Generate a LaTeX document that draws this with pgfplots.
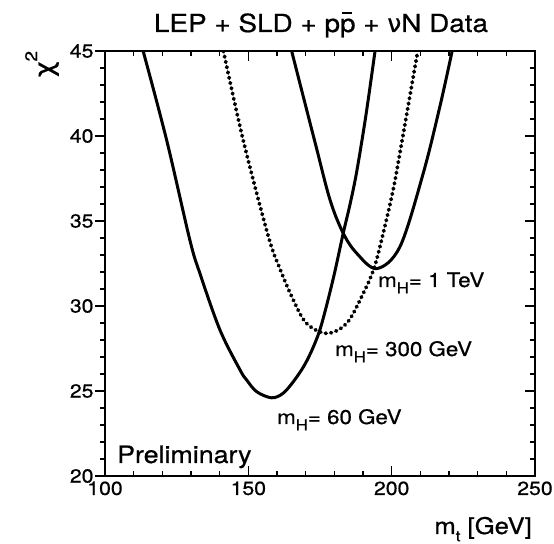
\documentclass[border=0pt]{standalone}
\usepackage{fontspec}
\setmainfont[FakeStretch=1.12, FakeBold=0.7]{TeX Gyre Heros}
\newfontfamily\greekfont[FakeBold=0.5]{DejaVu Sans}
\usepackage{pgfplots}
\pgfplotsset{compat=1.18}
\newcommand\pbar{\leavevmode\rlap{\hspace{0.07em}\rule[0.74em]{0.42em}{0.07em}}p}
\newcommand\sub[1]{\raisebox{-0.32em}{\fontsize{15}{15}\selectfont #1}}
\begin{document}
\begin{tikzpicture}[x=1bp,y=1bp]
\useasboundingbox (0,0) rectangle (554,544);
\pgfplotsset{
  common/.style={
    at={(105bp,68bp)}, anchor=south west,
    width=430bp, height=425bp, scale only axis,
    xmin=100, xmax=250, ymin=20, ymax=45,
    xtick={100,150,200,250}, minor x tick num=4,
    ytick={20,25,30,35,40,45}, minor y tick num=4,
    major tick length=10bp, minor tick length=5bp,
    every tick/.style={line width=1.3bp, black},
    axis line style={line width=2bp},
    /pgf/number format/assume math mode=true,
    tick label style={font=\fontsize{19}{21}\selectfont},
  }
}
\begin{axis}[common,
    tick align=inside,
    ytick pos=right, yticklabels={},
    xticklabel style={yshift=-2bp},
]
\addplot[line width=3bp, smooth, tension=0.55] coordinates {
(113.3,45) (121.5,39.76) (129.6,33.88) (133.1,31.92) (140.1,28.59)
(147.1,26.24) (149.4,25.65) (152.9,24.96) (158.1,24.6) (162.0,24.85)
(165.7,25.55) (169.5,26.5) (172.7,27.6) (175.5,28.9) (179.6,31.6) (183.1,34.28)
(185.5,36.0) (187.8,37.9) (191.0,41.2) (194.2,45)
};
\addplot[line width=3.8bp, line cap=round, dash pattern=on 0.8bp off 4.6bp, smooth, tension=0.55] coordinates {
(141.3,45) (148.2,39.76) (157.0,34.08) (161.0,32.2) (165.7,30.35)
(170.3,28.98) (177.3,28.39) (184.3,28.98) (190.1,30.75) (194.0,32.3)
(197.5,34.6) (200.6,36.9) (203.5,39.6) (206.3,42.3) (209.1,45)
};
\addplot[line width=3bp, smooth, tension=0.55] coordinates {
(165.1,45) (173.3,39.6) (178.5,36.24) (183.1,34.28) (187.8,33.1)
(194.8,32.2) (202.9,33.49) (211.0,37.8) (216.8,41.72) (221.1,45)
};
\end{axis}
\begin{axis}[common,
    axis x line=none, axis y line*=left,
    tick align=outside,
    yticklabel style={xshift=2bp},
]
\addplot[draw=none] coordinates {(100,20)};
\end{axis}
\node[anchor=base] at (321,512) {\fontsize{25}{30}\selectfont LEP + SLD + p\pbar{} + \greekfont ν\rmfamily N Data};
\node[rotate=90] at (42,480) {\greekfont\fontsize{27}{30}\selectfont χ\raisebox{0.6em}{\rmfamily\fontsize{17}{17}\selectfont 2}};
\node[anchor=base east, inner sep=0] at (532,10) {\fontsize{23}{26}\selectfont m\sub{t} [GeV]};
\node[anchor=base west, inner sep=0] at (378,257) {\fontsize{20}{24}\selectfont m\sub{H}= 1 TeV};
\node[anchor=base west, inner sep=0] at (335,188) {\fontsize{20}{24}\selectfont m\sub{H}= 300 GeV};
\node[anchor=base west, inner sep=0] at (277,120) {\fontsize{20}{24}\selectfont m\sub{H}= 60 GeV};
\node[anchor=base west, inner sep=0] at (117,81) {\fontsize{24}{28}\selectfont Preliminary};
\end{tikzpicture}
\end{document}
